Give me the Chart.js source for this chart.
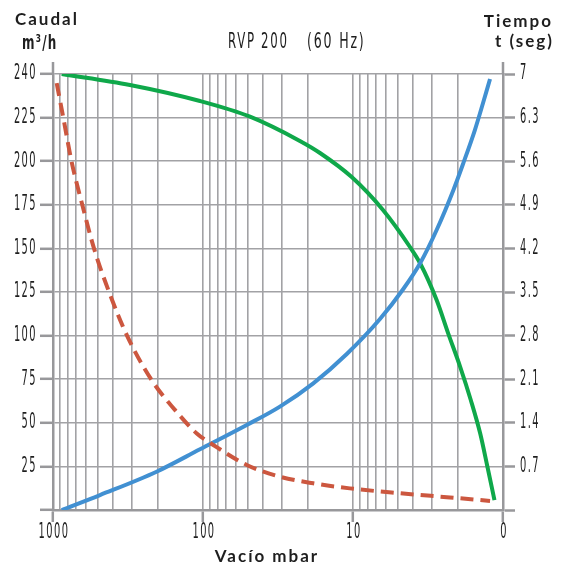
<!DOCTYPE html>
<html>
<head>
<meta charset="utf-8">
<script src="https://cdn.jsdelivr.net/npm/chart.js@4.4.1/dist/chart.umd.min.js"></script>
<style>
  body { margin: 0; background: #fff; }
  #box { width: 566px; height: 567px; position: relative; }
</style>
</head>
<body>
<div id="box"><canvas id="chart"></canvas></div>
<script>
// green: caudal (m3/h) vs vacio (mbar)
var vacioCaudal = [875, 307, 104.7, 48.6, 22.6, 16.6, 10.2, 6.31, 4.17, 3.57, 2.77, 2.32, 1.93, 1.64, 1.42, 1.27, 1.14];
var caudal      = [250, 243.7, 234.5, 225.5, 211.6, 204.7, 190.9, 172.0, 150.8, 141.5, 120.4, 101.3, 82.1, 63.1, 44.0, 24.8, 5.7];

// red dashed
var vacioRojo  = [945, 854, 753, 638, 533, 423, 321, 222, 147, 110, 85.4, 51.1, 30.7, 18.4, 10.5, 4.86, 2.26, 1.22];
var caudalRojo = [244.7, 225.0, 200.0, 175.0, 150.0, 125.0, 100.0, 75.0, 55.4, 43.9, 37.3, 25.8, 19.1, 15.3, 12.4, 9.6, 7.2, 5.2];

// blue: tiempo (seg) vs vacio (mbar)
var vacioTiempo = [875, 486, 204, 104.7, 51.1, 30.7, 18.4, 11.0, 6.61, 4.62, 3.57, 2.77, 2.14, 1.84, 1.54, 1.36, 1.22];
var tiempo      = [0, 0.24, 0.615, 0.975, 1.365, 1.66, 2.034, 2.505, 3.066, 3.548, 3.961, 4.495, 5.138, 5.566, 6.10, 6.53, 6.92];

// axis ticks
var xGridValues = [1,2,3,4,5,6,7,8,9,10,20,30,40,50,60,70,80,90,100,200,300,400,500,600,700,800,900,1000];
var xLabelValues = [1000, 100, 10, 1];
var xLabelTexts  = ['1000', '100', '10', '0'];
var leftTickValues = [0, 25, 50, 75, 100, 125, 150, 175, 200, 225, 250];
var leftTickTexts  = ['', '25', '50', '75', '100', '125', '150', '175', '200', '225', '240'];
var rightTickValues = [0, 0.7, 1.4, 2.1, 2.8, 3.5, 4.2, 4.9, 5.6, 6.3, 7];
var rightTickTexts  = ['', '0.7', '1.4', '2.1', '2.8', '3.5', '4.2', '4.9', '5.6', '6.3', '7'];

var gridColor = '#a2a2a5';
var axisColor = '#98989b';
var textColor = '#1e1e1e';
var narrowFont = "'DejaVu Sans', sans-serif";
var headFont = "Lato, 'Open Sans', sans-serif";

function toPoints(xs, ys) {
  return xs.map(function(x, i) { return {x: x, y: ys[i]}; });
}

// condensed text: squeeze horizontally around the anchor
function narrowText(ctx, text, x, y, align, sx, font, spacing) {
  ctx.save();
  ctx.font = font;
  ctx.letterSpacing = spacing + 'px';
  ctx.textAlign = align;
  ctx.translate(x, y);
  ctx.scale(sx, 1);
  ctx.fillText(text, 0, 0);
  ctx.restore();
}

var decor = {
  id: 'decor',
  afterDraw: function(chart) {
    var ctx = chart.ctx, a = chart.chartArea;
    var xs = chart.scales.x, ys = chart.scales.y, ys1 = chart.scales.y1;
    ctx.save();
    // axis lines stick out above the top grid line
    ctx.strokeStyle = axisColor;
    ctx.lineWidth = 2.5;
    ctx.beginPath();
    ctx.moveTo(a.left, a.top - 12); ctx.lineTo(a.left, a.top);
    ctx.moveTo(a.right, a.top - 12); ctx.lineTo(a.right, a.top);
    ctx.stroke();

    ctx.fillStyle = textColor;
    ctx.textBaseline = 'middle';

    // tick labels
    var tf = '21px ' + narrowFont;
    xLabelValues.forEach(function(v, i) {
      narrowText(ctx, xLabelTexts[i], xs.getPixelForValue(v) + 1, a.bottom + 23, 'center', 0.47, tf, 3);
    });
    leftTickValues.forEach(function(v, i) {
      narrowText(ctx, leftTickTexts[i], a.left - 16, ys.getPixelForValue(v), 'right', 0.47, tf, 3);
    });
    rightTickValues.forEach(function(v, i) {
      narrowText(ctx, rightTickTexts[i], a.right + 17, ys1.getPixelForValue(v), 'left', 0.47, tf, 3);
    });

    // titles
    narrowText(ctx, 'RVP 200', 228, 43, 'left', 0.56, '21px ' + narrowFont, 3);
    narrowText(ctx, '(60 Hz)', 307, 43, 'left', 0.6, '21px ' + narrowFont, 3);
    narrowText(ctx, 'm³/h', 22, 44, 'left', 0.6, 'bold 20px ' + narrowFont, 2);

    ctx.letterSpacing = '2px';
    ctx.font = 'bold 17px ' + headFont;
    ctx.textAlign = 'left';
    ctx.fillText('Caudal', 15, 20);
    ctx.textAlign = 'right';
    ctx.fillText('Tiempo', 553, 22);
    ctx.fillText('t (seg)', 554, 42);
    ctx.textAlign = 'center';
    ctx.fillText('Vacío mbar', 267, 557);
    ctx.restore();
  }
};

var ctx = document.getElementById('chart').getContext('2d');
new Chart(ctx, {
  type: 'line',
  data: {
    datasets: [{
      data: toPoints(vacioRojo, caudalRojo),
      yAxisID: 'y',
      borderColor: '#cc573f',
      borderWidth: 4,
      borderDash: [13, 7],
      pointRadius: 0,
      cubicInterpolationMode: 'monotone',
      fill: false
    }, {
      data: toPoints(vacioTiempo, tiempo),
      yAxisID: 'y1',
      borderColor: '#4190d2',
      borderWidth: 4,
      pointRadius: 0,
      cubicInterpolationMode: 'monotone',
      fill: false
    }, {
      data: toPoints(vacioCaudal, caudal),
      yAxisID: 'y',
      borderColor: '#0fa84a',
      borderWidth: 4,
      pointRadius: 0,
      cubicInterpolationMode: 'monotone',
      fill: false
    }]
  },
  options: {
    responsive: true,
    maintainAspectRatio: false,
    animation: false,
    layout: { padding: { top: 74, left: 0, right: 0, bottom: 0 } },
    plugins: { legend: { display: false }, tooltip: { enabled: false } },
    scales: {
      x: {
        type: 'logarithmic',
        reverse: true,
        min: 1,
        max: 1000,
        afterBuildTicks: function(scale) {
          scale.ticks = xGridValues.map(function(v) { return {value: v}; });
        },
        afterFit: function(scale) { scale.height = 57; },
        grid: {
          color: gridColor,
          lineWidth: 1.6,
          tickLength: 12,
          tickWidth: 2.5,
          tickColor: function(c) {
            return xLabelValues.indexOf(c.tick.value) >= 0 ? axisColor : 'rgba(0,0,0,0)';
          }
        },
        border: { color: axisColor, width: 2.5 },
        ticks: { display: false, autoSkip: false }
      },
      y: {
        position: 'left',
        min: 0,
        max: 250,
        afterBuildTicks: function(scale) {
          scale.ticks = leftTickValues.map(function(v) { return {value: v}; });
        },
        afterFit: function(scale) { scale.width = 53; },
        grid: { color: gridColor, lineWidth: 1.6, tickLength: 13, tickColor: axisColor, tickWidth: 2.5 },
        border: { color: axisColor, width: 2.5 },
        ticks: { display: false }
      },
      y1: {
        position: 'right',
        min: 0,
        max: 7,
        afterBuildTicks: function(scale) {
          scale.ticks = rightTickValues.map(function(v) { return {value: v}; });
        },
        afterFit: function(scale) { scale.width = 63; },
        grid: { drawOnChartArea: false, tickLength: 12, tickColor: axisColor, tickWidth: 2.5 },
        border: { color: axisColor, width: 2.5 },
        ticks: { display: false }
      }
    }
  },
  plugins: [decor]
});
</script>
</body>
</html>
